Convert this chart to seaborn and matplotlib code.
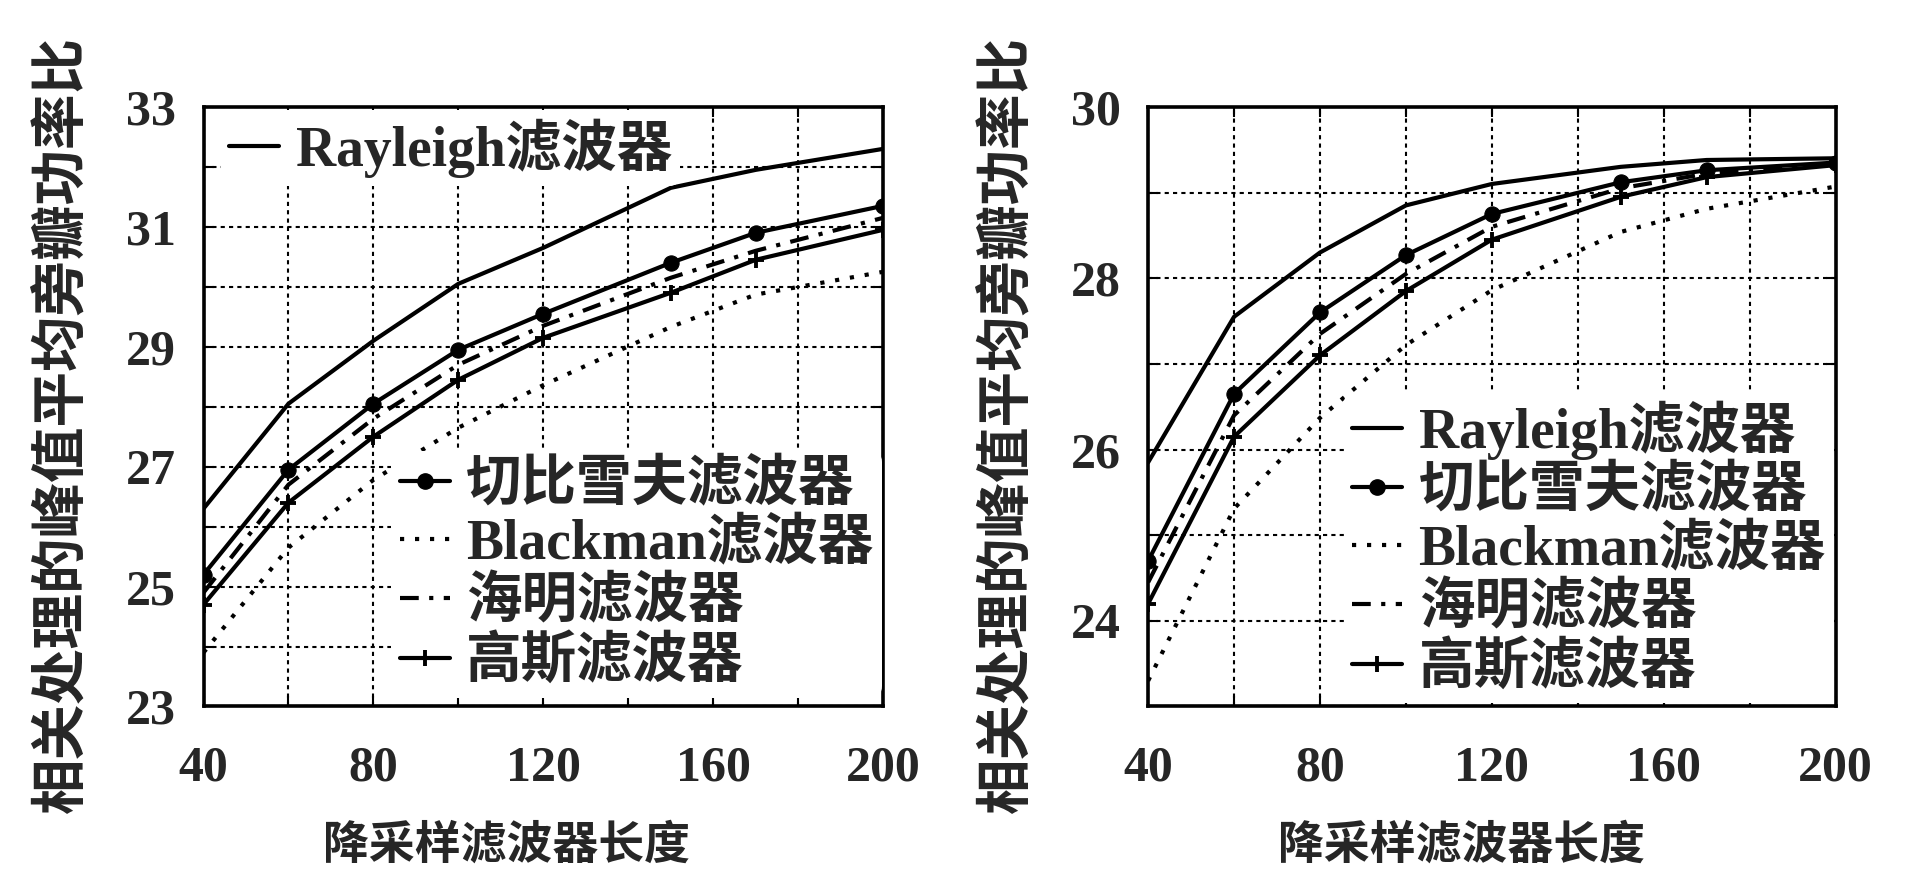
import matplotlib
matplotlib.use("Agg")
import matplotlib.pyplot as plt
from matplotlib.ticker import MultipleLocator, FixedLocator
from matplotlib.lines import Line2D
import seaborn as sns

# ---------------- data ----------------
filter_length = [40, 60, 80, 100, 120, 150, 170, 200]

series_names = ["Rayleigh滤波器", "切比雪夫滤波器", "Blackman滤波器", "海明滤波器", "高斯滤波器"]

# left panel
rayleigh_a = [26.3, 28.05, 29.1, 30.05, 30.65, 31.65, 31.95, 32.3]
cheb_a = [25.2, 26.95, 28.05, 28.95, 29.55, 30.4, 30.9, 31.35]
blackman_a = [23.9, 25.65, 26.78, 27.65, 28.36, 29.33, 29.87, 30.25]
hamming_a = [24.9, 26.7, 27.8, 28.7, 29.35, 30.15, 30.6, 31.15]
gauss_a = [24.7, 26.4, 27.5, 28.45, 29.15, 29.9, 30.45, 30.95]

# right panel
rayleigh_b = [25.85, 27.55, 28.3, 28.85, 29.1, 29.3, 29.38, 29.4]
cheb_b = [24.7, 26.65, 27.6, 28.27, 28.75, 29.12, 29.26, 29.35]
blackman_b = [23.3, 25.31, 26.37, 27.22, 27.86, 28.54, 28.81, 29.07]
hamming_b = [24.45, 26.4, 27.35, 28.05, 28.6, 29.05, 29.22, 29.33]
gauss_b = [24.2, 26.15, 27.1, 27.85, 28.45, 28.95, 29.18, 29.32]

x_ticks = [40, 80, 120, 160, 200]
y_ticks_a = [23, 25, 27, 29, 31, 33]
y_ticks_b = [24, 26, 28, 30]

xlabel = "降采样滤波器长度"
ylabel = "相关处理的峰值平均旁瓣功率比"

# ---------------- style ----------------
sns.set_theme(style="white")
plt.rcParams["font.family"] = ["Liberation Serif", "Noto Sans CJK SC", "DejaVu Sans"]
plt.rcParams["font.weight"] = "bold"
plt.rcParams["axes.unicode_minus"] = False

LW = 3.0
styles = [
    dict(linestyle="-", marker=None),
    dict(linestyle="-", marker="o", markersize=11),
    dict(linestyle=(0, (1.0, 2.6)), marker=None),
    dict(linestyle=(0, (4.5, 2.5, 1.0, 2.5)), marker=None),
    dict(linestyle="-", marker="+", markersize=11, markeredgewidth=2.8),
]

fig = plt.figure(figsize=(19.2, 8.69), dpi=100)
ax_a = fig.add_axes([0.106, 0.187, 0.354, 0.690])
ax_b = fig.add_axes([0.598, 0.187, 0.358, 0.690])


def draw(ax, data, ylim, yticks):
    for vals, st in zip(data, styles):
        sns.lineplot(x=filter_length, y=vals, ax=ax, color="black", linewidth=LW,
                     markeredgecolor="black", markerfacecolor="black", **st)
    ax.set_xlim(40, 200)
    ax.set_ylim(*ylim)
    ax.xaxis.set_major_locator(FixedLocator(x_ticks))
    ax.xaxis.set_minor_locator(MultipleLocator(20))
    ax.yaxis.set_major_locator(FixedLocator(yticks))
    ax.yaxis.set_minor_locator(MultipleLocator(1))
    ax.grid(which="both", color="black", linestyle=(0, (2, 2.0)), linewidth=1.5)
    ax.set_axisbelow(True)
    ax.tick_params(which="both", direction="in", top=True, right=True,
                   bottom=True, left=True, length=7, width=1.5, color="black")
    ax.tick_params(axis="x", which="major", pad=28, labelsize=36)
    ax.tick_params(axis="y", which="major", pad=20, labelsize=36)
    for lab in ax.get_xticklabels() + ax.get_yticklabels():
        lab.set_fontweight("bold")
    for sp in ax.spines.values():
        sp.set_visible(True)
        sp.set_color("black")
        sp.set_linewidth(2.6)
    ax.set_xlabel(xlabel, fontsize=33, fontweight="bold")
    ax.set_ylabel(ylabel, fontsize=40, fontweight="bold")


draw(ax_a, [rayleigh_a, cheb_a, blackman_a, hamming_a, gauss_a], (23, 33), y_ticks_a)
draw(ax_b, [rayleigh_b, cheb_b, blackman_b, hamming_b, gauss_b], (23, 30), y_ticks_b)

ax_a.xaxis.set_label_coords(0.446, -0.198)
ax_b.xaxis.set_label_coords(0.456, -0.198)
ax_a.yaxis.set_label_coords(-0.168, 0.47)
ax_b.yaxis.set_label_coords(-0.166, 0.47)


def handles():
    hs = []
    for name, st in zip(series_names, styles):
        hs.append(Line2D([0], [0], color="black", linewidth=LW, label=name,
                         markeredgecolor="black", markerfacecolor="black", **st))
    return hs


leg_kw = dict(frameon=True, facecolor="white", edgecolor="none", framealpha=1,
              handlelength=0.9, handletextpad=0.3, labelspacing=0.1,
              borderpad=0.15, borderaxespad=0.0, prop={"size": 40, "weight": "bold"})

hs = handles()
leg1 = ax_a.legend(handles=hs[:1], loc="upper left", bbox_to_anchor=(0.025, 0.995), **leg_kw)
ax_a.add_artist(leg1)
ax_a.legend(handles=hs[1:], loc="lower right", bbox_to_anchor=(0.998, 0.015), **leg_kw)

ax_b.legend(handles=handles(), loc="lower right", bbox_to_anchor=(0.998, 0.005), **leg_kw)

fig.savefig("out.png", dpi=100, facecolor="white")
